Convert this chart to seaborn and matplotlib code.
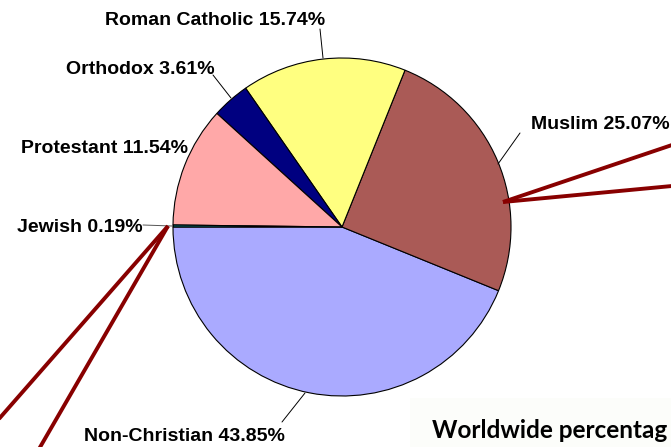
import matplotlib
matplotlib.use("Agg")
import matplotlib.pyplot as plt
import seaborn as sns
from matplotlib.patches import Rectangle

# ---- data ----
categories = ["Non-Christian", "Muslim", "Roman Catholic", "Orthodox", "Protestant", "Jewish"]
shares = [43.85, 25.07, 15.74, 3.61, 11.54, 0.19]
colors = ["#AAAAFF", "#AA5A56", "#FFFF80", "#000080", "#FFA8A8", "#007A7A"]
title_text = "Worldwide percentag"

labels = [f"{c} {v:.2f}%" for c, v in zip(categories, shares)]

sns.set_theme(style="white")
plt.rcParams['font.family'] = ['Liberation Sans', 'DejaVu Sans']

W, H = 671, 447
fig = plt.figure(figsize=(W / 100, H / 100), dpi=100)
fig.patch.set_facecolor("white")
ax = fig.add_axes([0, 0, 1, 1])


def P(x, y):
    return (x, H - y)


# very faint panel behind the cut-off title
ax.add_patch(Rectangle(P(410, 447), 300, 49, facecolor="#FCFDFA", edgecolor="none", zorder=0))

ax.pie(shares, colors=colors, startangle=180, counterclock=True,
       center=P(342, 227), radius=169,
       wedgeprops=dict(edgecolor="black", linewidth=0.8))
ax.set_xlim(0, W)
ax.set_ylim(0, H)
ax.set_aspect("equal", adjustable="box")
ax.axis("off")

# label positions (left x, baseline y) and leader lines, in pixel coords from top-left
label_pos = {
    "Non-Christian": (84, 441),
    "Muslim": (531, 129),
    "Roman Catholic": (105, 25),
    "Orthodox": (66, 74),
    "Protestant": (21, 153),
    "Jewish": (17, 232),
}
leaders = {
    "Non-Christian": ((305, 393), (282, 422)),
    "Muslim": ((520, 133), (498, 164)),
    "Roman Catholic": ((320, 29), (323, 58)),
    "Orthodox": ((213, 75), (231, 98)),
    "Jewish": ((143, 225), (172, 226)),
}

for cat, lab in zip(categories, labels):
    x, y = label_pos[cat]
    ax.text(*P(x, y), lab, ha="left", va="baseline", fontsize=14,
            fontweight="bold", color="black", zorder=5)
    if cat in leaders:
        (x0, y0), (x1, y1) = leaders[cat]
        ax.plot([x0, x1], [H - y0, H - y1], color="black" if cat != "Jewish" else "#555555",
                lw=0.7, zorder=4)

# dark red callout wedges (annotation decoration)
red = "#880000"
for tip, ends in [((503, 202), [(672, 145), (672, 186)]),
                  ((168, 226), [(-2, 420), (39, 449)])]:
    for e in ends:
        ax.plot([tip[0], e[0]], [H - tip[1], H - e[1]], color=red, lw=2.8,
                solid_capstyle="butt", zorder=6, clip_on=False)

ax.text(*P(432, 438), title_text, ha="left", va="baseline", fontsize=17.5,
        fontweight="bold", family=["Lato", "DejaVu Sans"], color="black", zorder=7)

fig.savefig("out.png", dpi=100)
